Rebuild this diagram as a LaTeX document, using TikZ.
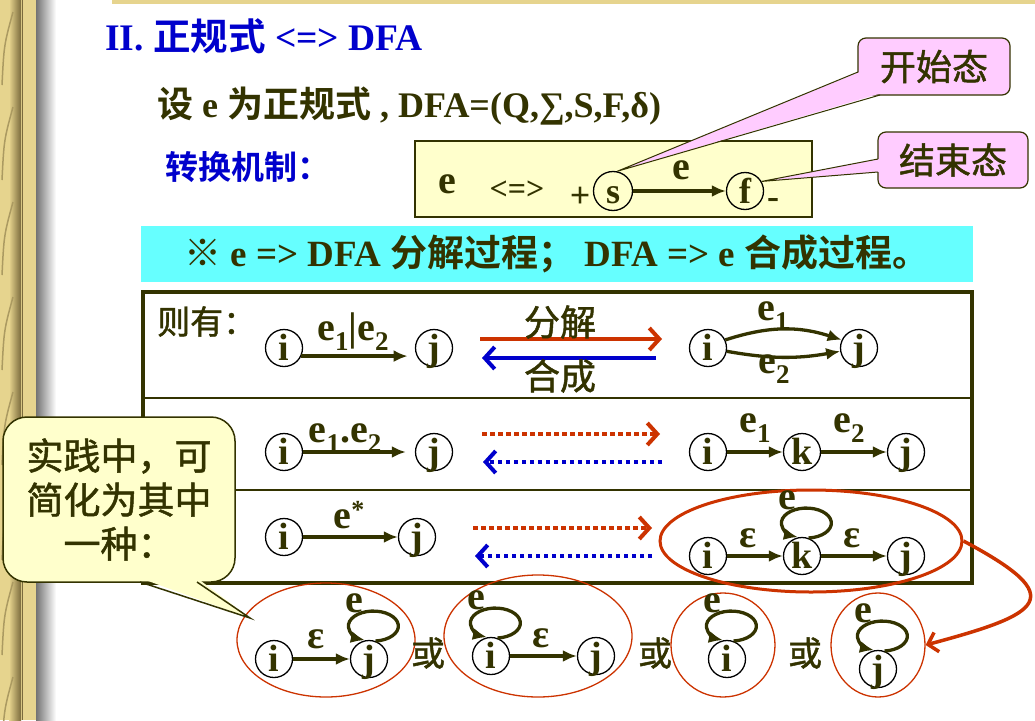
\documentclass[tikz,border=0pt]{standalone}
\usepackage{fontspec}
\setmainfont{Liberation Serif}
\newfontfamily\cjk{Noto Sans CJK SC}[BoldFont={* Bold}]
\newfontfamily\cjkm{Noto Sans CJK SC}[FakeBold=1.3]
\usetikzlibrary{arrows.meta}
\usetikzlibrary{shapes.geometric}
\usetikzlibrary{positioning}
\definecolor{schrift}{HTML}{333300}
\definecolor{titelblau}{HTML}{0000CC}
\definecolor{rot}{HTML}{CC3300}
\definecolor{rosa}{HTML}{FFCCFF}
\definecolor{creme}{HTML}{FFFFCC}
\definecolor{tuerkis}{HTML}{66FFFF}
\definecolor{holz}{HTML}{E6D48E}
\definecolor{holzdunkel}{HTML}{7A6A3C}
\newcommand\zh[1]{{\cjk #1}}
\newcommand\groesse[1]{\fontsize{#1}{#1}\selectfont}
\newcommand\tief[1]{\raisebox{-10pt}{\groesse{27}#1}}
\newcommand\hoch[1]{\raisebox{10pt}{\groesse{26}#1}}
\tikzset{zustand/.style = {
circle, draw=black, line width=1.3pt, inner sep=0pt, minimum size=37pt,
text=schrift, font=\groesse{38}\bfseries, text height=25pt, text depth=0pt
}}
\tikzset{pfeil/.style = {draw=schrift, line width=3.3pt, -{Latex[length=14pt,width=12pt]}}}
\tikzset{marke/.style = {text=schrift, font=\groesse{40}\bfseries, inner sep=0pt, anchor=base}}
\tikzset{zeile/.style = {text=schrift, font=\groesse{36}\bfseries, inner sep=0pt}}
\tikzset{wort/.style = {text=schrift, font=\groesse{36}\cjkm, inner sep=0pt}}
\tikzset{rpfeil/.style = {draw=rot, line width=4pt, -{Straight Barb[length=10pt,width=22pt]}}}
\tikzset{bpfeil/.style = {rpfeil, draw=titelblau}}
\tikzset{punkte/.style = {dash pattern=on 4.5pt off 3.5pt}}
\tikzset{ring/.style = {ellipse, draw=rot, line width=1.3pt, inner sep=0pt}}
\tikzset{hinweis/.style = {rectangle, rounded corners=8pt, draw=schrift, line width=1.2pt, fill=rosa, text=schrift, font=\groesse{36}\cjkm}}
\begin{document}
\begin{tikzpicture}[x=1pt, y=-1pt]
\useasboundingbox (0,0) rectangle (1035,720);
\fill[white] (0,0) rectangle (1035,720);

\fill[holz] (0,0) rectangle (36,720);
\shade[left color=holz, right color=holzdunkel] (9,0) rectangle (21,720);
\draw[holzdunkel, line width=1.2pt] (22.5,0) -- (22.5,720);
\foreach \y in {0,95,...,720} {
\draw[holzdunkel!55!holz, line width=1.5pt] (2,\y+85) .. controls (4,\y+45) .. (13,\y+12);
}
\shade[left color=black!55, right color=white] (36,0) rectangle (56,720);
\fill[holz] (112,0) rectangle (1035,4);

\node[anchor=base west, text=titelblau, font=\groesse{37.5}\bfseries, inner sep=0pt] (titel) at (105,50) {II. \zh{正规式} <=> DFA};
\node[anchor=base west, zeile] (satz) at (157,117) {\zh{设} e \zh{为正规式} , DFA=(Q,∑,S,F,δ)};
\node[anchor=base west, text=titelblau, font=\groesse{33}\bfseries\cjk, inner sep=0pt] (mech) at (165,179) {转换机制：};

\node[draw=schrift, line width=2pt, fill=creme, minimum width=397pt, minimum height=76pt] (kasten) at (613.5,179) {};
\node[marke] (ke) at (447,193) {e};
\node[zeile, font=\groesse{32}\bfseries] (kgl) at (517,190) {<=>};
\node[zeile] (plus) at (580,197) {+};
\node[zustand, minimum size=39pt, font=\groesse{36}\bfseries] (s) at (613,191) {s};
\node[zustand, font=\groesse{36}\bfseries] (f) at (745,191) {f};
\node[zeile] (minus) at (773,203) {-};
\draw[pfeil] (s) -- (f);
\node[marke] (se) at (681,179) {e};

\node[hinweis, minimum width=152pt, minimum height=57pt] (start) at (934,66.5) {开始态};
\node[hinweis, minimum width=150pt, minimum height=56pt] (ende) at (953,160) {结束态};
\fill[rosa] (859.5,72) -- (s.78) -- (880,93.5) -- (866,88) -- cycle;
\draw[schrift, line width=1pt] (858,72) -- (s.78) -- (880,95);
\fill[rosa] (879.5,159) -- (f.30) -- (879.5,172) -- cycle;
\draw[schrift, line width=1pt] (878,159) -- (f.30) -- (878,172);

\node[fill=tuerkis, minimum width=832pt, minimum height=56pt, zeile, font=\groesse{37}\bfseries] (band) at (557,254) {\zh{※} e => DFA \zh{分解过程；} DFA => e \zh{合成过程。}};

\draw[schrift, line width=4pt] (143,292) rectangle (972,583);
\draw[schrift, line width=2pt] (143,398) -- (972,398);
\draw[schrift, line width=2pt] (143,490) -- (972,490);

\node[anchor=base west, wort, font=\groesse{33}\cjkm] (dann) at (157,334) {则有：};
\node[zustand] (i1) at (284,348) {i};
\node[zustand] (j1) at (434,348) {j};
\draw[pfeil, shorten >=9pt] (i1.-25) -- (j1.205);
\node[marke] (l1) at (353,340) {e\tief{1}|e\tief{2}};
\coordinate (r1a) at (480,339);
\coordinate (r1b) at (662,339);
\coordinate (b1a) at (656,358);
\coordinate (b1b) at (482,358);
\draw[rpfeil] (r1a) -- (r1b);
\draw[bpfeil] (b1a) -- (b1b);
\node[wort] (zerl) at (560,322) {分解};
\node[wort] (bild) at (560,376) {合成};
\node[zustand] (i1r) at (708,348) {i};
\node[zustand] (j1r) at (859,348) {j};
\draw[pfeil] (i1r.25) to[bend left=18] (j1r.155);
\draw[pfeil] (i1r.-10) to[bend right=10] (j1r.190);
\node[marke] (l1o) at (773,320) {e\tief{1}};
\node[marke] (l1u) at (774,373) {e\tief{2}};

\node[zustand] (i2) at (284,452) {i};
\node[zustand] (j2) at (434,452) {j};
\draw[pfeil, shorten >=9pt] (i2) -- (j2);
\node[marke] (l2) at (345,442) {e\tief{1}.e\tief{2}};
\coordinate (r2a) at (482,434);
\coordinate (r2b) at (660,434);
\coordinate (b2a) at (662,462);
\coordinate (b2b) at (483,462);
\draw[rpfeil, punkte] (r2a) -- (r2b);
\draw[bpfeil, punkte] (b2a) -- (b2b);
\node[zustand] (i2r) at (708,452) {i};
\node[zustand] (k2) at (802,452) {k};
\node[zustand] (j2r) at (906,452) {j};
\draw[pfeil] (i2r) -- (k2);
\draw[pfeil] (k2) -- (j2r);
\node[marke] (l2a) at (755,432) {e\tief{1}};
\node[marke] (l2b) at (849,432) {e\tief{2}};

\node[zustand] (i3) at (284,537) {i};
\node[zustand] (j3) at (417,537) {j};
\draw[pfeil] (i3) -- (j3);
\node[marke] (l3) at (349,528) {e\hoch{*}};
\coordinate (r3a) at (473,528);
\coordinate (r3b) at (652,528);
\coordinate (b3a) at (652,556);
\coordinate (b3b) at (475,556);
\draw[rpfeil, punkte] (r3a) -- (r3b);
\draw[bpfeil, punkte] (b3a) -- (b3b);
\node[zustand] (i3r) at (708,556) {i};
\node[zustand] (k3) at (802,556) {k};
\node[zustand] (j3r) at (906,556) {j};
\draw[pfeil] (i3r) -- (k3);
\draw[pfeil] (k3) -- (j3r);
\node[marke] (l3a) at (748,547) {ε};
\node[marke] (l3b) at (852,547) {ε};
\node[ring, line width=3pt, minimum width=302pt, minimum height=102pt] (ring3) at (811,541) {};

\node[ring, minimum width=178pt, minimum height=114pt] (c1) at (326,640) {};
\node[zustand] (b1i) at (274,659) {i};
\node[zustand] (b1j) at (369,659) {j};
\draw[pfeil] (b1i) -- (b1j);
\node[marke] (l4) at (316,648) {ε};
\node[wort, font=\groesse{34}\cjkm] (oder1) at (428,653) {或};
\node[ring, minimum width=188pt, minimum height=122pt] (c2) at (538,636) {};
\node[zustand] (b2i) at (491,656) {i};
\node[zustand] (b2j) at (596,656) {j};
\draw[pfeil] (b2i) -- (b2j);
\node[marke] (l5) at (541,647) {ε};
\node[wort, font=\groesse{34}\cjkm] (oder2) at (655,653) {或};
\node[ring, minimum width=104pt, minimum height=104pt] (c3) at (723,645) {};
\node[zustand] (b3i) at (727,659) {i};
\node[wort, font=\groesse{34}\cjkm] (oder3) at (805,653) {或};
\node[ring, minimum width=94pt, minimum height=104pt] (c4) at (878,645) {};
\node[zustand] (b4j) at (878,669) {j};

\foreach \n in {k3,b1j,b2i,b3i,b4j} {
\draw[pfeil] (\n.70) arc[start angle=-85, end angle=250, x radius=25pt, y radius=15pt];
\node[marke] (e\n) at ([shift={(-15pt,47pt)}]\n.center) {e};
}

\draw[rot, line width=3.5pt, -{Straight Barb[length=9pt,width=20pt]}] (ring3.east) to[out=-28, in=15, looseness=2.8] (c4.east);

\node[rectangle, rounded corners=24pt, draw=schrift, line width=1.5pt, fill=creme, minimum width=232pt, minimum height=165pt, align=center, text=schrift, font=\fontsize{37}{44}\selectfont\cjkm] (tipp) at (119,499.5) {实践中，可\\简化为其中\\一种：};
\fill[creme] (140,578) -- (250,618) -- (197,578) -- cycle;
\draw[schrift, line width=1.5pt] (140,582) -- (250,618) -- (197,582);
\end{tikzpicture}
\end{document}
